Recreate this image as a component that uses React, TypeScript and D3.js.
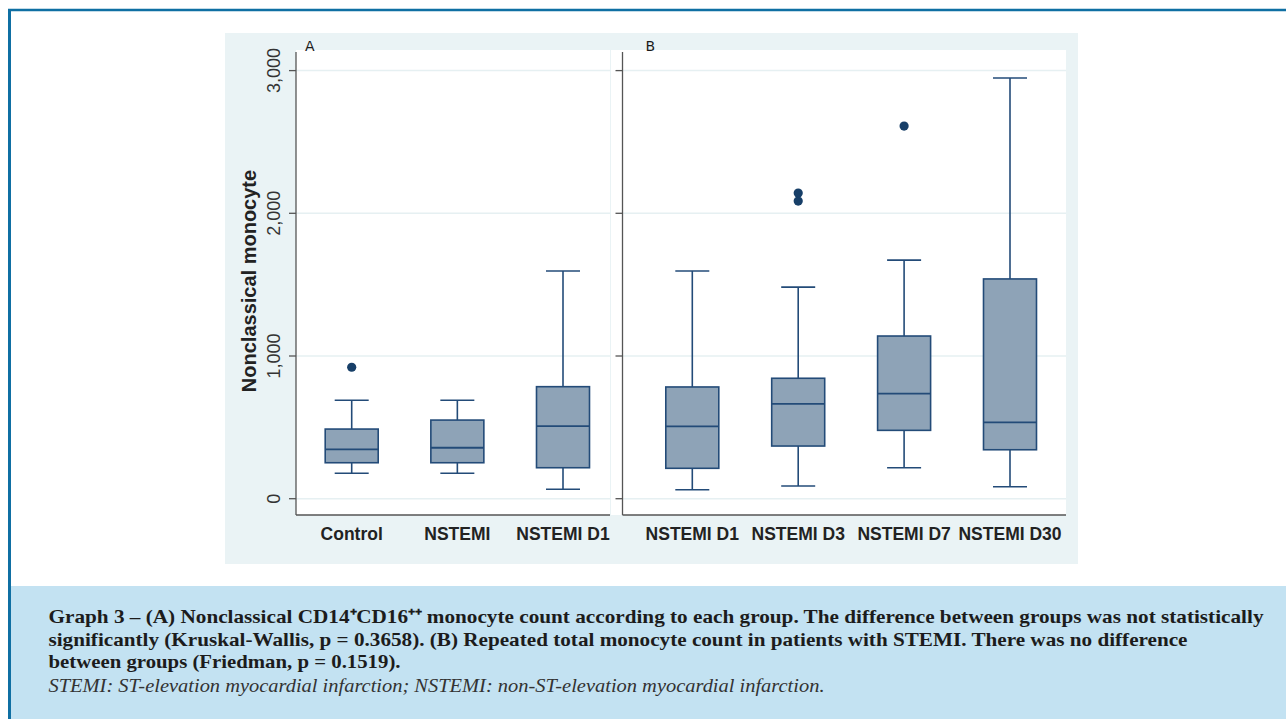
import * as React from 'react';
import * as d3 from 'd3';

// panel A
const catsA = ['Control', 'NSTEMI', 'NSTEMI D1'];
const lowA = [178, 178, 66];
const q1A = [252, 252, 217];
const medA = [346, 357, 509];
const q3A = [488, 551, 785];
const highA = [690, 690, 1596];
const outA = [[921], [], []];

// panel B
const catsB = ['NSTEMI D1', 'NSTEMI D3', 'NSTEMI D7', 'NSTEMI D30'];
const lowB = [63, 89, 217, 84];
const q1B = [213, 369, 479, 343];
const medB = [507, 664, 736, 535];
const q3B = [783, 844, 1140, 1540];
const highB = [1596, 1483, 1672, 2948];
const outB = [[], [2086, 2142], [2611], []];

const yTicks = [0, 1000, 2000, 3000];

const caption = [
  'Graph 3 – (A) Nonclassical CD14\u207ACD16\u207A\u207A monocyte count according to each group. The difference between groups was not statistically',
  'significantly (Kruskal-Wallis, p = 0.3658). (B) Repeated total monocyte count in patients with STEMI. There was no difference',
  'between groups (Friedman, p = 0.1519).',
];
const footnote = 'STEMI: ST-elevation myocardial infarction; NSTEMI: non-ST-elevation myocardial infarction.';

const W = 1286, H = 719;
const boxFill = '#8ea3b7';
const boxStroke = '#234b78';
const dotFill = '#173f68';
const sans = 'Liberation Sans, Arial, sans-serif';
const serif = 'Liberation Serif, Times New Roman, serif';

export default function App() {
  const ref = React.useRef<SVGSVGElement>(null);

  React.useEffect(() => {
    const svg = d3.select(ref.current);
    svg.selectAll('*').remove();

    const y = d3.scaleLinear().domain([0, 3000]).range([498.7, 70.6]);

    // outer frame
    svg.append('rect').attr('x', 0).attr('y', 0).attr('width', W).attr('height', H).attr('fill', '#fff');
    svg.append('rect').attr('x', 9).attr('y', 586).attr('width', W - 9).attr('height', H - 586).attr('fill', '#c3e2f2');
    svg.append('line').attr('x1', 8).attr('x2', W).attr('y1', 10).attr('y2', 10).attr('stroke', '#0f6fa3').attr('stroke-width', 2.5);
    svg.append('line').attr('x1', 9.5).attr('x2', 9.5).attr('y1', 9).attr('y2', H).attr('stroke', '#0f6fa3').attr('stroke-width', 3);

    // chart background
    svg.append('rect').attr('x', 225).attr('y', 33).attr('width', 853).attr('height', 531).attr('fill', '#eaf3f5');

    const panels = [
      { cats: catsA, low: lowA, q1: q1A, med: medA, q3: q3A, high: highA, out: outA,
        left: 296, right: 610, axisX: 296, xr: [351.7, 563], label: 'A', labelX: 305 },
      { cats: catsB, low: lowB, q1: q1B, med: medB, q3: q3B, high: highB, out: outB,
        left: 611, right: 1066, axisX: 622.5, xr: [692.3, 1010], label: 'B', labelX: 645.5 },
    ];

    const top = 50, bottom = 515;
    const bw = 53, cap = 34;

    panels.forEach((p, pi) => {
      const g = svg.append('g');
      g.append('rect').attr('x', p.left).attr('y', top).attr('width', p.right - p.left).attr('height', bottom - top).attr('fill', '#fff');

      // grid
      g.selectAll('.grid').data(yTicks).enter().append('line')
        .attr('x1', p.axisX).attr('x2', p.right)
        .attr('y1', d => y(d)).attr('y2', d => y(d))
        .attr('stroke', '#e6f0f2').attr('stroke-width', 1.5);

      // axes
      g.append('line').attr('x1', p.axisX).attr('x2', p.axisX).attr('y1', top + 2).attr('y2', bottom)
        .attr('stroke', '#555').attr('stroke-width', 1.3);
      g.append('line').attr('x1', p.axisX).attr('x2', p.right).attr('y1', bottom).attr('y2', bottom)
        .attr('stroke', '#555').attr('stroke-width', 1.3);
      g.selectAll('.tick').data(yTicks).enter().append('line')
        .attr('x1', p.axisX - 7).attr('x2', p.axisX)
        .attr('y1', d => y(d)).attr('y2', d => y(d))
        .attr('stroke', '#555').attr('stroke-width', 1.3);

      if (pi === 0) {
        g.selectAll('.tl').data(yTicks).enter().append('text')
          .attr('transform', d => `translate(280,${y(d)}) rotate(-90)`)
          .attr('text-anchor', 'middle')
          .attr('font-family', sans)
          .attr('font-size', 18).attr('fill', '#333')
          .text(d => d3.format(',')(d));
        g.append('text')
          .attr('transform', `translate(255.5,281) rotate(-90)`)
          .attr('text-anchor', 'middle')
          .attr('font-family', sans)
          .attr('font-weight', 'bold').attr('font-size', 20).attr('fill', '#222')
          .text('Nonclassical monocyte');
      }

      g.append('text').attr('x', p.labelX).attr('y', 50.5)
        .attr('font-family', 'DejaVu Sans, sans-serif').attr('font-size', 14).attr('fill', '#1a1a1a')
        .text(p.label);

      const x = d3.scalePoint<string>().domain(p.cats).range(p.xr as [number, number]);

      g.selectAll('.xl').data(p.cats).enter().append('text')
        .attr('x', d => x(d)!).attr('y', 539.5)
        .attr('text-anchor', 'middle')
        .attr('font-family', sans)
        .attr('font-weight', 'bold').attr('font-size', 17.5).attr('fill', '#222')
        .text(d => d);

      p.cats.forEach((c, i) => {
        const cx = x(c)!;
        // whiskers
        g.append('line').attr('x1', cx).attr('x2', cx).attr('y1', y(p.high[i])).attr('y2', y(p.q3[i]))
          .attr('stroke', boxStroke).attr('stroke-width', 1.6);
        g.append('line').attr('x1', cx).attr('x2', cx).attr('y1', y(p.q1[i])).attr('y2', y(p.low[i]))
          .attr('stroke', boxStroke).attr('stroke-width', 1.6);
        g.append('line').attr('x1', cx - cap / 2).attr('x2', cx + cap / 2).attr('y1', y(p.high[i])).attr('y2', y(p.high[i]))
          .attr('stroke', boxStroke).attr('stroke-width', 1.6);
        g.append('line').attr('x1', cx - cap / 2).attr('x2', cx + cap / 2).attr('y1', y(p.low[i])).attr('y2', y(p.low[i]))
          .attr('stroke', boxStroke).attr('stroke-width', 1.6);
        // box
        g.append('rect').attr('x', cx - bw / 2).attr('y', y(p.q3[i]))
          .attr('width', bw).attr('height', y(p.q1[i]) - y(p.q3[i]))
          .attr('fill', boxFill).attr('stroke', boxStroke).attr('stroke-width', 1.6);
        g.append('line').attr('x1', cx - bw / 2).attr('x2', cx + bw / 2).attr('y1', y(p.med[i])).attr('y2', y(p.med[i]))
          .attr('stroke', boxStroke).attr('stroke-width', 1.8);
        // outliers
        g.selectAll(`.o${i}`).data(p.out[i]).enter().append('circle')
          .attr('cx', cx).attr('cy', d => y(d)).attr('r', 4.6).attr('fill', dotFill);
      });
    });

    // caption
    const widths = [1215, 1139, 352];
    const baselines = [623, 645.7, 668.3];
    caption.forEach((t, i) => {
      svg.append('text').attr('x', 48.5).attr('y', baselines[i])
        .attr('font-family', serif)
        .attr('font-weight', 'bold').attr('font-size', 19).attr('fill', '#1c1c1c')
        .attr('textLength', widths[i]).attr('lengthAdjust', 'spacingAndGlyphs')
        .text(t);
    });
    svg.append('text').attr('x', 48.5).attr('y', 691.7)
      .attr('font-family', serif)
      .attr('font-style', 'italic').attr('font-size', 18).attr('fill', '#333')
      .attr('textLength', 776).attr('lengthAdjust', 'spacingAndGlyphs')
      .text(footnote);
  }, []);

  return (
    <svg ref={ref} width={W} height={H}
      style={{ position: 'absolute', left: 0, top: 0, display: 'block' }} />
  );
}
